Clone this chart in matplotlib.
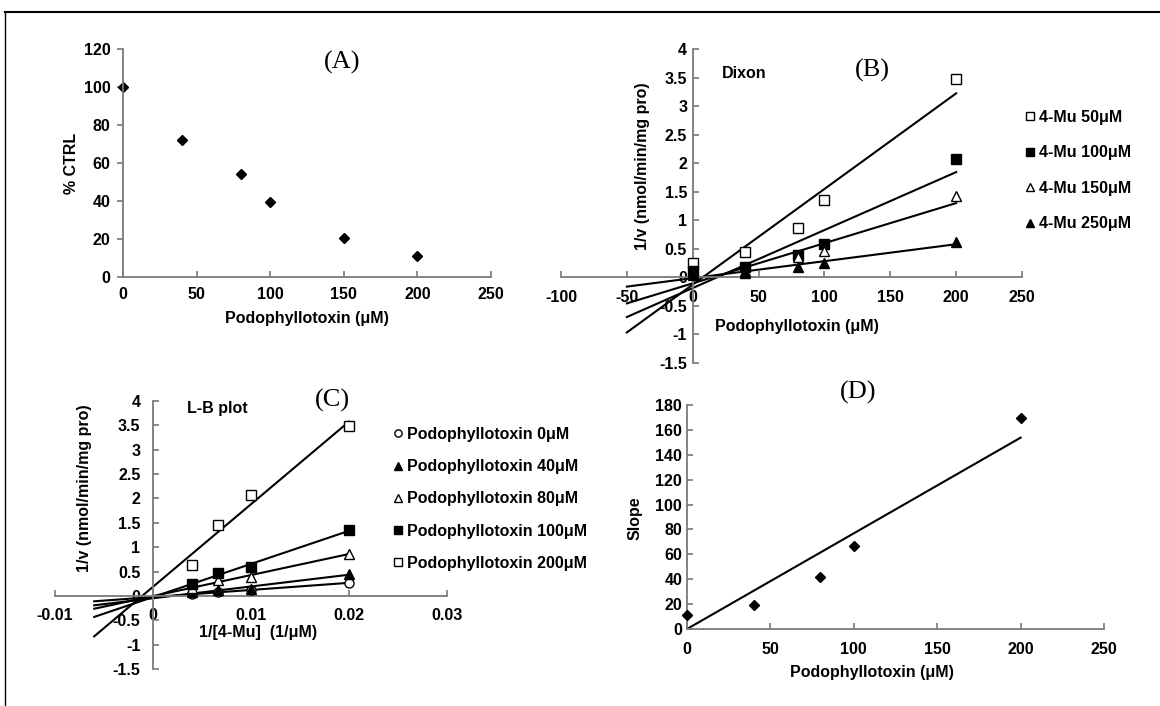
import numpy as np
import matplotlib
matplotlib.use("Agg")
import matplotlib.pyplot as plt
from matplotlib.ticker import FuncFormatter
from matplotlib.lines import Line2D

plt.rcParams['font.family'] = ['Liberation Sans', 'DejaVu Sans']
plt.rcParams['font.weight'] = 'bold'

W, H = 1160, 706

# (A) activity vs inhibitor
conc_a = [0, 40, 80, 100, 150, 200]
pct_ctrl = [100, 72, 54, 39.5, 20.4, 11.3]

# (B) Dixon plot, 1/v vs podophyllotoxin for each 4-Mu level
conc_b = [0, 40, 80, 100, 200]
dixon_labels = ['4-Mu 50μM', '4-Mu 100μM', '4-Mu 150μM', '4-Mu 250μM']
dixon_50 = [0.26, 0.44, 0.87, 1.35, 3.48]
dixon_100 = [0.11, 0.18, 0.39, 0.58, 2.07]
dixon_150 = [0.07, 0.12, 0.35, 0.47, 1.42]
dixon_250 = [0.05, 0.08, 0.18, 0.25, 0.62]

# (C) Lineweaver-Burk, 1/v vs 1/[4-Mu]
inv_mu = [1 / 250, 1 / 150, 1 / 100, 1 / 50]
lb_labels = ['Podophyllotoxin 0μM', 'Podophyllotoxin 40μM', 'Podophyllotoxin 80μM',
             'Podophyllotoxin 100μM', 'Podophyllotoxin 200μM']
lb_0 = [0.04, 0.07, 0.12, 0.27]
lb_40 = [0.07, 0.12, 0.15, 0.45]
lb_80 = [0.16, 0.33, 0.38, 0.87]
lb_100 = [0.25, 0.47, 0.60, 1.35]
lb_200 = [0.63, 1.45, 2.08, 3.48]

# (D) replot of L-B slopes
conc_d = [0, 40, 80, 100, 200]
slope_d = [11, 19.5, 41.5, 66.3, 169.3]

fig = plt.figure(figsize=(W / 100, H / 100), dpi=100)
fmt = FuncFormatter(lambda v, p: '%g' % v)
TICK = 11.5


def add_ax(x0, x1, y0, y1):
    # pixel box (left, right, top, bottom) -> figure axes
    return fig.add_axes([x0 / W, 1 - y1 / H, (x1 - x0) / W, (y1 - y0) / H])


def style(ax, xlim, ylim, xticks, yticks, xpad, ypad, ydir='in'):
    ax.set_xlim(xlim)
    ax.set_ylim(ylim)
    ax.set_xticks(xticks)
    ax.set_yticks(yticks)
    ax.xaxis.set_major_formatter(fmt)
    ax.yaxis.set_major_formatter(fmt)
    for s in ['top', 'right']:
        ax.spines[s].set_visible(False)
    for s in ['left', 'bottom']:
        ax.spines[s].set_position(('data', 0))
        ax.spines[s].set_color('#7a7a7a')
        ax.spines[s].set_linewidth(1.3)
    ax.tick_params(axis='x', direction='in', length=4, width=1.2, color='#7a7a7a',
                   labelsize=TICK, pad=xpad)
    ax.tick_params(axis='y', direction=ydir, length=4, width=1.2, color='#7a7a7a',
                   labelsize=TICK, pad=ypad)
    ax.patch.set_visible(False)


def ftext(x, y, s, **kw):
    fig.text(x / W, 1 - y / H, s, ha='center', va='center', **kw)


serif = dict(family=['Liberation Serif'], weight='normal', fontsize=19)
lab = dict(fontsize=11.5, fontweight='bold')
leg_kw = dict(bbox_transform=fig.transFigure, loc='upper left', frameon=False,
              borderpad=0, borderaxespad=0, handlelength=0.55, handletextpad=0.25,
              markerscale=0.8, prop={'weight': 'bold', 'size': 11.5})

# ---- (A)
ax = add_ax(123, 491, 49, 277)
style(ax, (0, 250), (0, 120), range(0, 251, 50), range(0, 121, 20), 7, 5, ydir='out')
ax.plot(conc_a, pct_ctrl, 'D', color='black', ms=5.5, clip_on=False)
ftext(342, 62, '(A)', **serif)
ftext(307, 318, 'Podophyllotoxin (μM)', **lab)
ftext(72, 163, '% CTRL', rotation=90, **lab)

# ---- (B)
ax = add_ax(561, 1022, 49, 363)
style(ax, (-100, 250), (-1.5, 4), range(-100, 251, 50), np.arange(-1.5, 4.01, 0.5), 9, 4)
b_series = [dixon_50, dixon_100, dixon_150, dixon_250]
b_marks = [('s', 'white'), ('s', 'black'), ('^', 'white'), ('^', 'black')]
xb = np.array(conc_b)
for ys, (m, fc), name in zip(b_series, b_marks, dixon_labels):
    k, b0 = np.polyfit(xb, ys, 1)
    xx = np.array([xb.min() - 50, xb.max()])
    ax.plot(xx, k * xx + b0, color='black', lw=1.5, zorder=2)
    ax.plot(xb, ys, m, mfc=fc, mec='black', mew=1, ms=6.5, ls='none', label=name,
            zorder=3, clip_on=False)
ax.legend(bbox_to_anchor=(1026 / W, 1 - 110 / H), labelspacing=1.28, **leg_kw)
ftext(872, 70, '(B)', **serif)
ax.text(722 / W, 1 - 73 / H, 'Dixon', transform=fig.transFigure, ha='left', va='center', **lab)
ftext(797, 326, 'Podophyllotoxin (μM)', **lab)
ftext(643, 166, '1/v (nmol/min/mg pro)', rotation=90, **lab)

# ---- (C)
ax = add_ax(55, 447, 401, 669)
style(ax, (-0.01, 0.03), (-1.5, 4), [-0.01, 0, 0.01, 0.02, 0.03],
      np.arange(-1.5, 4.01, 0.5), 9, 9)
c_series = [lb_0, lb_40, lb_80, lb_100, lb_200]
c_marks = [('o', 'white'), ('^', 'black'), ('^', 'white'), ('s', 'black'), ('s', 'white')]
xc = np.array(inv_mu)
for ys, (m, fc), name in zip(c_series, c_marks, lb_labels):
    k, b0 = np.polyfit(xc, ys, 1)
    xx = np.array([xc.min() - 0.01, xc.max()])
    ax.plot(xx, k * xx + b0, color='black', lw=1.5, zorder=2)
    ax.plot(xc, ys, m, mfc=fc, mec='black', mew=1, ms=6.5, ls='none', label=name,
            zorder=3, clip_on=False)
ax.legend(bbox_to_anchor=(394 / W, 1 - 427 / H), labelspacing=1.08, **leg_kw)
ftext(332, 400, '(C)', **serif)
ax.text(187 / W, 1 - 408 / H, 'L-B plot', transform=fig.transFigure, ha='left', va='center', **lab)
ftext(258, 633, '1/[4-Mu]  (1/μM)', **lab)
ftext(85, 488, '1/v (nmol/min/mg pro)', rotation=90, **lab)

# ---- (D)
ax = add_ax(687, 1104, 405, 629)
style(ax, (0, 250), (0, 180), range(0, 251, 50), range(0, 181, 20), 9, 3.5)
xd = np.array(conc_d, dtype=float)
yd = np.array(slope_d)
k = (xd * yd).sum() / (xd * xd).sum()  # trendline forced through origin
xx = np.array([0, xd.max()])
ax.plot(xx, k * xx, color='black', lw=1.5)
ax.plot(xd, yd, 'D', color='black', ms=5, clip_on=False, zorder=3)
ftext(858, 392, '(D)', **serif)
ftext(872, 673, 'Podophyllotoxin (μM)', **lab)
ftext(635, 518, 'Slope', rotation=90, **lab)

# outer frame (top and left edges visible)
fig.add_artist(Line2D([5 / W, 1], [1 - 12 / H, 1 - 12 / H], color='black', lw=1.5,
                      transform=fig.transFigure))
fig.add_artist(Line2D([5 / W, 5 / W], [0, 1 - 12 / H], color='black', lw=1,
                      transform=fig.transFigure))

fig.savefig('out.png', dpi=100)
